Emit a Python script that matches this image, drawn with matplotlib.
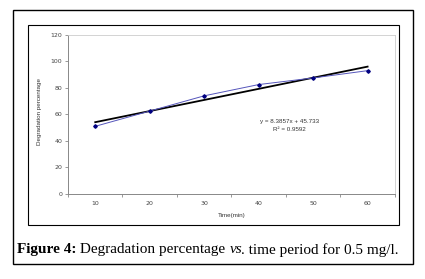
import matplotlib.pyplot as plt
from matplotlib.patches import Rectangle

# Data
time_labels = ['10', '20', '30', '40', '50', '60']
degradation = [51.0, 62.5, 74.0, 82.5, 87.5, 93.0]
slope, intercept = 8.3857, 45.733

fig = plt.figure(figsize=(4.25, 2.79), dpi=100)

# outer figure frame and chart frame
fig.add_artist(Rectangle((0.031, 0.054), 0.941, 0.910, transform=fig.transFigure,
                         fill=False, edgecolor='black', linewidth=1.0))
fig.add_artist(Rectangle((0.066, 0.194), 0.873, 0.716, transform=fig.transFigure,
                         fill=False, edgecolor='black', linewidth=0.8))

ax = fig.add_axes([0.16, 0.305, 0.769, 0.570])
x = list(range(1, len(time_labels) + 1))
ax.plot(x, degradation, color='#5555bb', linewidth=0.7, marker='D',
        markersize=1.8, markerfacecolor='#000080', markeredgecolor='#000080', zorder=3)
trend = [slope * xi + intercept for xi in x]
ax.plot(x, trend, color='black', linewidth=1.3, zorder=2)

ax.set_xlim(0.5, 6.5)
ax.set_ylim(0, 120)
ax.set_yticks(range(0, 121, 20))
ax.set_xticks(x)
ax.set_xticklabels(time_labels)
ax.set_xticks([i + 0.5 for i in range(0, 7)], minor=True)
ax.tick_params(axis='x', which='major', length=0, labelsize=4.5, labelcolor='#444444', pad=5)
ax.tick_params(axis='x', which='minor', length=2, color='#888888', width=0.6)
ax.tick_params(axis='y', length=2, color='#888888', width=0.6, labelsize=4.5,
               labelcolor='#444444', pad=2)

for side in ['top', 'right']:
    ax.spines[side].set_color('#cccccc')
    ax.spines[side].set_linewidth(0.6)
for side in ['left', 'bottom']:
    ax.spines[side].set_color('#888888')
    ax.spines[side].set_linewidth(0.7)

ax.set_xlabel('Time(min)', fontsize=4.5, color='#333333', family='Liberation Sans')
ax.xaxis.set_label_coords(0.5, -0.12)
ax.set_ylabel('Degradation percentage', fontsize=4.5, color='#333333', family='Liberation Sans')
ax.yaxis.set_label_coords(-0.08, 0.52)

ax.text(0.678, 0.455, 'y = 8.3857x + 45.733', transform=ax.transAxes, fontsize=4.5,
        ha='center', va='center', color='#333333', family='Liberation Sans')
ax.text(0.678, 0.405, 'R² = 0.9592', transform=ax.transAxes, fontsize=4.5,
        ha='center', va='center', color='#333333', family='Liberation Sans')

# Caption, written piece by piece (bold / normal / italic)
pieces = [('Figure 4:', 'bold', 'normal'),
          (' Degradation percentage ', 'normal', 'normal'),
          ('vs', 'normal', 'italic'),
          ('. time period for 0.5 mg/l.', 'normal', 'normal')]
renderer = fig.canvas.get_renderer()
xpos = 17
for txt, weight, style in pieces:
    t = fig.text(xpos / 425, 0.104, txt, fontsize=11, family='Liberation Serif',
                 weight=weight, style=style, ha='left', va='center')
    bb = t.get_window_extent(renderer=renderer)
    xpos = bb.x1 - (1.5 if style == 'italic' else 0)

fig.savefig('out.png', dpi=100)
